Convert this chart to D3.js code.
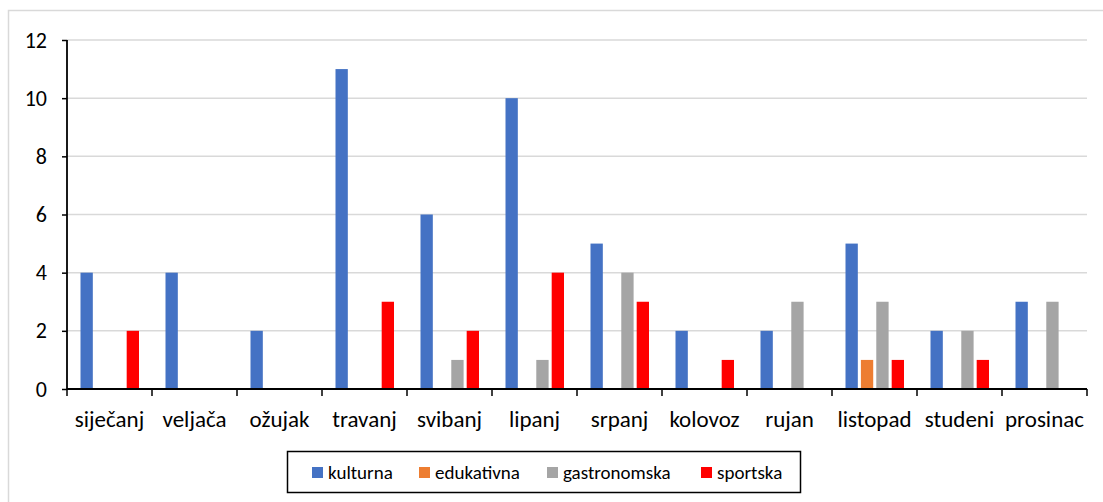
<!DOCTYPE html>
<html>
<head>
<meta charset="utf-8">
<script src="https://cdn.jsdelivr.net/npm/d3@7"></script>
<style>
  body { margin: 0; background: #fff; }
  text { font-family: Calibri, Carlito, Lato, "Noto Sans", sans-serif; fill: #000; }
</style>
</head>
<body>
<svg id="chart" width="1103" height="502"></svg>
<script>
// chart data
var months = ["siječanj","veljača","ožujak","travanj","svibanj","lipanj","srpanj","kolovoz","rujan","listopad","studeni","prosinac"];
var seriesNames = ["kulturna","edukativna","gastronomska","sportska"];
var kulturna = [4,4,2,11,6,10,5,2,2,5,2,3];
var edukativna = [0,0,0,0,0,0,0,0,0,1,0,0];
var gastronomska = [0,0,0,0,1,1,4,0,3,3,2,3];
var sportska = [2,0,0,3,2,4,3,1,0,1,1,0];
var yTicks = [0,2,4,6,8,10,12];

var colors = { kulturna:"#4472C4", edukativna:"#ED7D31", gastronomska:"#A5A5A5", sportska:"#FF0000" };
var values = { kulturna:kulturna, edukativna:edukativna, gastronomska:gastronomska, sportska:sportska };

var svg = d3.select("#chart");

// outer frame
svg.append("rect")
  .attr("x",8.5).attr("y",10.5).attr("width",1110).attr("height",520)
  .attr("fill","none").attr("stroke","#D9D9D9").attr("stroke-width",1.5);

var plotL = 67, plotR = 1087, plotT = 40, plotB = 389;

var x = d3.scaleBand().domain(months).range([plotL,plotR]);
var x1 = d3.scaleBand().domain(seriesNames).range([13.5,72]).paddingInner(0.2);
var y = d3.scaleLinear().domain([0,12]).range([plotB,plotT]);

// grid
svg.append("g").selectAll("line")
  .data(yTicks.filter(function(d){ return d > 0; }))
  .enter().append("line")
  .attr("x1",plotL).attr("x2",plotR)
  .attr("y1",function(d){ return y(d); }).attr("y2",function(d){ return y(d); })
  .attr("stroke","#D9D9D9").attr("stroke-width",1.5);

// bars
var groups = svg.append("g").selectAll("g")
  .data(months)
  .enter().append("g")
  .attr("transform",function(d){ return "translate("+x(d)+",0)"; });

groups.selectAll("rect")
  .data(function(m,i){ return seriesNames.map(function(s){ return {s:s, v:values[s][i]}; }).filter(function(d){ return d.v > 0; }); })
  .enter().append("rect")
  .attr("x",function(d){ return x1(d.s); })
  .attr("width",x1.bandwidth())
  .attr("y",function(d){ return y(d.v); })
  .attr("height",function(d){ return y(0) - y(d.v); })
  .attr("fill",function(d){ return colors[d.s]; });

// y axis
var yAxis = svg.append("g")
  .attr("transform","translate("+plotL+",0)")
  .call(d3.axisLeft(y).tickValues(yTicks).tickSize(5).tickPadding(15).tickFormat(d3.format("d")));
yAxis.select(".domain").attr("stroke","#000").attr("stroke-width",1.8).attr("d","M0,"+plotT+"V"+plotB);
yAxis.selectAll(".tick line").attr("stroke","#000").attr("stroke-width",1.5);
yAxis.selectAll("text").style("font-size","22px").attr("fill","#000");

// x axis
var xAxis = svg.append("g")
  .attr("transform","translate(0,"+plotB+")")
  .call(d3.axisBottom(x).tickSize(0).tickPadding(22));
xAxis.select(".domain").attr("stroke","#000").attr("stroke-width",1.8).attr("d","M"+plotL+",0H"+plotR);
xAxis.selectAll("text").style("font-size","23px").attr("fill","#000");
// boundary ticks between categories
xAxis.append("g").selectAll("line")
  .data(d3.range(months.length + 1))
  .enter().append("line")
  .attr("x1",function(i){ return plotL + i*x.bandwidth(); })
  .attr("x2",function(i){ return plotL + i*x.bandwidth(); })
  .attr("y1",0).attr("y2",7)
  .attr("stroke","#000").attr("stroke-width",1.5);

// legend
var legend = svg.append("g");
legend.append("rect")
  .attr("x",287.5).attr("y",451.5).attr("width",513).attr("height",41)
  .attr("fill","#fff").attr("stroke","#000").attr("stroke-width",1.5);
var legendX = [312,419,547,701];
var items = legend.selectAll("g.item")
  .data(seriesNames)
  .enter().append("g").attr("class","item")
  .attr("transform",function(d,i){ return "translate("+legendX[i]+",467)"; });
items.append("rect").attr("width",11).attr("height",11).attr("fill",function(d){ return colors[d]; });
items.append("text").attr("x",16).attr("y",11.5).style("font-size","19px").text(function(d){ return d; });
</script>
</body>
</html>
